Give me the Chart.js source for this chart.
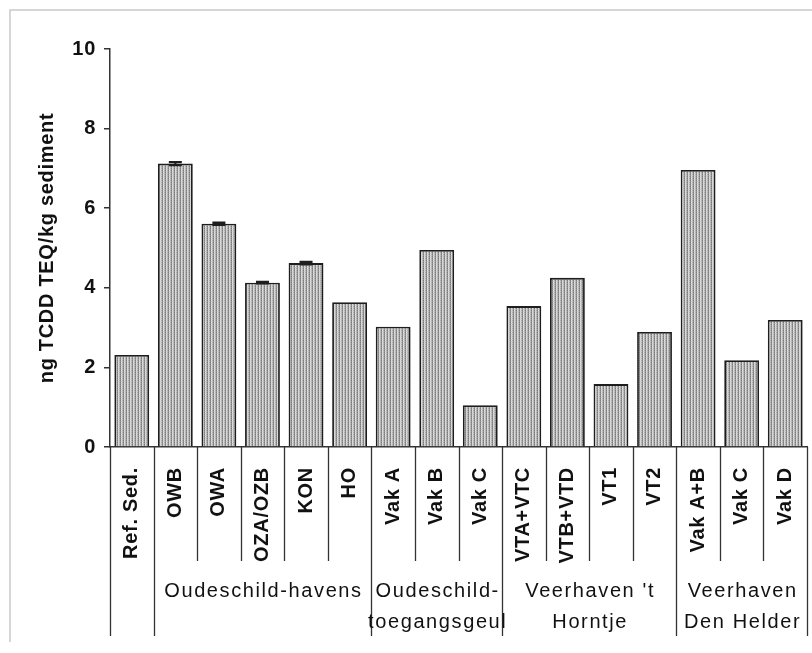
<!DOCTYPE html>
<html>
<head>
<meta charset="utf-8">
<script src="https://cdn.jsdelivr.net/npm/chart.js@4/dist/chart.umd.min.js"></script>
<style>
  html, body { margin: 0; padding: 0; background: #fff; }
  #wrap { width: 812px; height: 653px; position: relative; }
</style>
</head>
<body>
<div id="wrap"><canvas id="c" width="812" height="653"></canvas></div>
<script>
// Sampling locations, in plot order
const categories = ["Ref. Sed.", "OWB", "OWA", "OZA/OZB", "KON", "HO",
  "Vak A", "Vak B", "Vak C",
  "VTA+VTC", "VTB+VTD", "VT1", "VT2",
  "Vak A+B", "Vak C", "Vak D"];

// ng TCDD TEQ per kg sediment
const values = [2.31, 7.12, 5.61, 4.13, 4.62, 3.64,
  3.02, 4.95, 1.05,
  3.54, 4.25, 1.58, 2.89,
  6.96, 2.18, 3.19];

// Spread shown as error bars (0 = none)
const errors = [0, 0.04, 0.03, 0.02, 0.03, 0,
  0, 0, 0,
  0, 0, 0, 0,
  0, 0, 0];

// Area groups below the location labels
const groupNames = ["", "Oudeschild-havens", "Oudeschild-\ntoegangsgeul", "Veerhaven 't\nHorntje", "Veerhaven\nDen Helder"];
const groupSizes = [1, 5, 3, 4, 3];

// Value axis
const yMin = 0, yMax = 10, yStep = 2;
const yTitle = "ng TCDD TEQ/kg sediment";

const FONT = "'Liberation Sans', Arial, sans-serif";
const INK = "#1e1e1e";

// Fine vertical hatch used as bar fill
function hatchPattern(ctx) {
  const p = document.createElement("canvas");
  p.width = 3; p.height = 2;
  const g = p.getContext("2d");
  const cols = [["#7c7c7c", "#939393"], ["#e0e0e0", "#d0d0d0"], ["#b0b0b0", "#c2c2c2"]];
  for (let x = 0; x < 3; x++) {
    for (let y = 0; y < 2; y++) {
      g.fillStyle = cols[x][y];
      g.fillRect(x, y, 1, 1);
    }
  }
  return ctx.createPattern(p, "repeat");
}

// Text spacing for everything the library draws
const spacingPlugin = {
  id: "spacing",
  beforeLayout(chart) { chart.ctx.letterSpacing = "0.7px"; },
  beforeDraw(chart) { chart.ctx.letterSpacing = "0.7px"; }
};

// Outer frame (top and left edges)
const framePlugin = {
  id: "frame",
  beforeDraw(chart) {
    const ctx = chart.ctx;
    ctx.save();
    ctx.strokeStyle = "#c9c9c9";
    ctx.lineWidth = 1.5;
    ctx.beginPath();
    ctx.moveTo(10, 642);
    ctx.lineTo(10, 10);
    ctx.lineTo(812, 10);
    ctx.stroke();
    ctx.restore();
  }
};

// Error bars drawn from the value scale
const errorBarPlugin = {
  id: "errorBars",
  afterDatasetsDraw(chart) {
    const ctx = chart.ctx;
    const meta = chart.getDatasetMeta(0);
    const ys = chart.scales.y;
    ctx.save();
    ctx.strokeStyle = INK;
    ctx.lineWidth = 2.2;
    errors.forEach((e, i) => {
      if (!e) return;
      const x = meta.data[i].x;
      const top = ys.getPixelForValue(values[i] + e);
      const bot = ys.getPixelForValue(values[i] - e);
      ctx.beginPath();
      ctx.moveTo(x, top); ctx.lineTo(x, bot);
      ctx.moveTo(x - 6.5, top); ctx.lineTo(x + 6.5, top);
      ctx.moveTo(x - 6.5, bot); ctx.lineTo(x + 6.5, bot);
      ctx.stroke();
    });
    ctx.restore();
  }
};

// Category separators and group captions under the x axis
const groupPlugin = {
  id: "groups",
  afterDraw(chart) {
    const ctx = chart.ctx;
    const xs = chart.scales.x;
    const step = xs.getPixelForValue(1) - xs.getPixelForValue(0);
    const edge = i => xs.getPixelForValue(i) - step / 2;
    const top = xs.top;
    const shortEnd = 561, longEnd = 636;

    const groupEdges = [0];
    groupSizes.forEach(n => groupEdges.push(groupEdges[groupEdges.length - 1] + n));

    ctx.save();
    ctx.strokeStyle = "#333";
    ctx.lineWidth = 1.3;
    for (let i = 0; i <= categories.length; i++) {
      const x = Math.round(edge(i)) + 0.5;
      ctx.beginPath();
      ctx.moveTo(x, top);
      ctx.lineTo(x, groupEdges.includes(i) ? longEnd : shortEnd);
      ctx.stroke();
    }

    ctx.fillStyle = "#111";
    ctx.font = "20px " + FONT;
    ctx.letterSpacing = "1.6px";
    ctx.textAlign = "center";
    ctx.textBaseline = "middle";
    groupNames.forEach((name, g) => {
      if (!name) return;
      const cx = (edge(groupEdges[g]) + edge(groupEdges[g + 1])) / 2 + 1;
      name.split("\n").forEach((line, k) => {
        ctx.fillText(line, cx, 591 + k * 31);
      });
    });
    ctx.restore();
  }
};

const ctx = document.getElementById("c").getContext("2d");

new Chart(ctx, {
  type: "bar",
  data: {
    labels: categories,
    datasets: [{
      data: values,
      backgroundColor: hatchPattern(ctx),
      borderColor: INK,
      borderWidth: 1.8,
      barPercentage: 0.8,
      categoryPercentage: 1.0
    }]
  },
  options: {
    responsive: false,
    animation: false,
    events: [],
    layout: { padding: { left: 0, right: 5, top: 49, bottom: 0 } },
    plugins: {
      legend: { display: false },
      tooltip: { enabled: false }
    },
    scales: {
      x: {
        offset: true,
        grid: { display: false },
        border: { display: true, color: "#333", width: 1.5 },
        ticks: {
          autoSkip: false,
          minRotation: 90,
          maxRotation: 90,
          padding: 12,
          color: "#111",
          font: { family: FONT, size: 20, weight: "bold" }
        },
        afterFit(scale) {
          scale.height = 206;
          scale.paddingLeft = 0;
          scale.paddingRight = 0;
        }
      },
      y: {
        min: yMin,
        max: yMax,
        ticks: {
          stepSize: yStep,
          padding: 8,
          color: "#111",
          font: { family: FONT, size: 20, weight: "bold" }
        },
        grid: {
          drawOnChartArea: false,
          drawTicks: true,
          tickLength: 6,
          color: "#333",
          lineWidth: 1.5
        },
        border: { display: true, color: "#333", width: 1.5 },
        title: {
          display: true,
          text: yTitle,
          color: "#111",
          padding: { top: 35, bottom: 0 },
          font: { family: FONT, size: 20, weight: "bold" }
        },
        afterFit(scale) { scale.width = 110; }
      }
    }
  },
  plugins: [spacingPlugin, framePlugin, errorBarPlugin, groupPlugin]
});
</script>
</body>
</html>
